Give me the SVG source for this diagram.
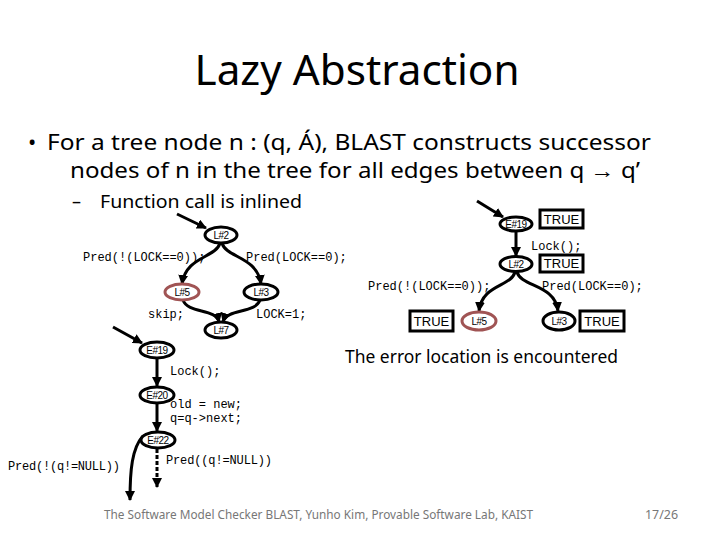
<svg xmlns="http://www.w3.org/2000/svg" width="720" height="540" viewBox="0 0 720 540">
<defs>
<marker id="ah" markerUnits="userSpaceOnUse" markerWidth="10" markerHeight="10" viewBox="0 0 10 10" refX="9" refY="5" orient="auto">
<path d="M0,0 L10,5 L0,10 Z" fill="#000"/>
</marker>
<style>
.t{font-family:"Noto Sans","Open Sans","Liberation Sans",sans-serif;fill:#000}
.c{font-family:"Liberation Mono","DejaVu Sans Mono",monospace;font-size:12px;fill:#000}
.n{font-family:"Liberation Sans","DejaVu Sans",sans-serif;font-size:10px;fill:#000;text-anchor:middle;letter-spacing:-0.5px}
.e{fill:#fff;stroke:#000;stroke-width:3}
.err{fill:#fff;stroke:#a05454;stroke-width:3}
.box{fill:#fff;stroke:#000;stroke-width:3}
.bt{font-family:"Liberation Sans","DejaVu Sans",sans-serif;font-size:13px;fill:#000;text-anchor:middle}
.ln{fill:none;stroke:#000;stroke-width:3;marker-end:url(#ah)}
.ft{font-family:"Noto Sans","Open Sans","Liberation Sans",sans-serif;font-size:12px;fill:#777}
</style>
</defs>
<rect width="720" height="540" fill="#fff"/>
<text class="t" x="357" y="85" font-size="42" text-anchor="middle" textLength="325" lengthAdjust="spacingAndGlyphs">Lazy Abstraction</text>
<text class="t" x="28" y="150" font-size="22">•</text>
<text class="t" x="47" y="150" font-size="22" textLength="604" lengthAdjust="spacingAndGlyphs">For a tree node n : (q, Á), BLAST constructs successor</text>
<text class="t" x="70" y="178" font-size="22" textLength="570" lengthAdjust="spacingAndGlyphs">nodes of n in the tree for all edges between q → q’</text>
<text class="t" x="72" y="208" font-size="18">–</text>
<text class="t" x="100" y="208" font-size="18" textLength="202" lengthAdjust="spacingAndGlyphs">Function call is inlined</text>

<g id="connectors">
<path class="ln" d="M177,214 L206,228"/>
<path class="ln" d="M220,243 C216,258 186,256 182,284"/>
<path class="ln" d="M222,243 C226,258 257,256 261,284"/>
<path class="ln" d="M183,300 C188,314 216,308 219,322"/>
<path class="ln" d="M260,300 C255,314 227,308 223,322"/>
<path class="ln" d="M113,327 L142,343"/>
<path class="ln" d="M157,358 L157,386"/>
<path class="ln" d="M157,404 L157,431"/>
<path class="ln" d="M157,449 L157,487" stroke-dasharray="4,2"/>
<path class="ln" d="M143,436 C132,448 130,470 130,500"/>
<path class="ln" d="M477,201 L503,217"/>
<path class="ln" d="M516,231 L516,256"/>
<path class="ln" d="M515,272 C511,287 482,284 479,311"/>
<path class="ln" d="M517,272 C521,287 555,284 558,311"/>
</g>

<g id="L2"><ellipse class="e" cx="221" cy="235" rx="16" ry="8"/><text class="n" x="221" y="239">L#2</text></g>
<g id="L5"><ellipse class="err" cx="182" cy="292" rx="17" ry="8"/><text class="n" x="182" y="296">L#5</text></g>
<g id="L3"><ellipse class="e" cx="261" cy="292" rx="17" ry="8"/><text class="n" x="261" y="296">L#3</text></g>
<g id="L7"><ellipse class="e" cx="221" cy="330" rx="16" ry="8"/><text class="n" x="221" y="334">L#7</text></g>
<g id="E19a"><ellipse class="e" cx="157" cy="350" rx="17" ry="8"/><text class="n" x="157" y="354">E#19</text></g>
<g id="E20"><ellipse class="e" cx="157" cy="395" rx="17" ry="8"/><text class="n" x="157" y="399">E#20</text></g>
<g id="E22"><ellipse class="e" cx="158" cy="440" rx="17" ry="8"/><text class="n" x="158" y="444">E#22</text></g>

<g id="E19b"><ellipse class="e" cx="516" cy="224" rx="16" ry="7"/><text class="n" x="516" y="228">E#19</text></g>
<g id="L2b"><ellipse class="e" cx="516" cy="264" rx="16" ry="7.5"/><text class="n" x="516" y="268">L#2</text></g>
<g id="L5b"><ellipse class="err" cx="479" cy="321" rx="17" ry="9"/><text class="n" x="479" y="325">L#5</text></g>
<g id="L3b"><ellipse class="e" cx="559" cy="321" rx="16" ry="9"/><text class="n" x="559" y="325">L#3</text></g>

<g id="T1"><rect class="box" x="540" y="210" width="43" height="18"/><text class="bt" x="561.5" y="224">TRUE</text></g>
<g id="T2"><rect class="box" x="540" y="255" width="43" height="17"/><text class="bt" x="561.5" y="268">TRUE</text></g>
<g id="T3"><rect class="box" x="410" y="311" width="43" height="20"/><text class="bt" x="431.5" y="326">TRUE</text></g>
<g id="T4"><rect class="box" x="580" y="311" width="44" height="20"/><text class="bt" x="602" y="326">TRUE</text></g>

<g id="labels">
<text class="c" x="83" y="261">Pred(!(LOCK==0));</text>
<text class="c" x="246" y="261">Pred(LOCK==0);</text>
<text class="c" x="148" y="318">skip;</text>
<text class="c" x="256" y="318">LOCK=1;</text>
<text class="c" x="170" y="375">Lock();</text>
<text class="c" x="170" y="408">old = new;</text>
<text class="c" x="170" y="422">q=q-&gt;next;</text>
<text class="c" x="8" y="470" textLength="112">Pred(!(q!=NULL))</text>
<text class="c" x="166" y="464" textLength="106">Pred((q!=NULL))</text>
<text class="c" x="531" y="250">Lock();</text>
<text class="c" x="368" y="290">Pred(!(LOCK==0));</text>
<text class="c" x="542" y="290">Pred(LOCK==0);</text>
</g>

<text class="t" x="345" y="363" font-size="18" textLength="273" lengthAdjust="spacingAndGlyphs">The error location is encountered</text>
<text class="ft" x="104" y="519" textLength="429" lengthAdjust="spacingAndGlyphs">The Software Model Checker BLAST, Yunho Kim, Provable Software Lab, KAIST</text>
<text class="ft" x="645" y="519" textLength="33" lengthAdjust="spacingAndGlyphs">17/26</text>
</svg>
